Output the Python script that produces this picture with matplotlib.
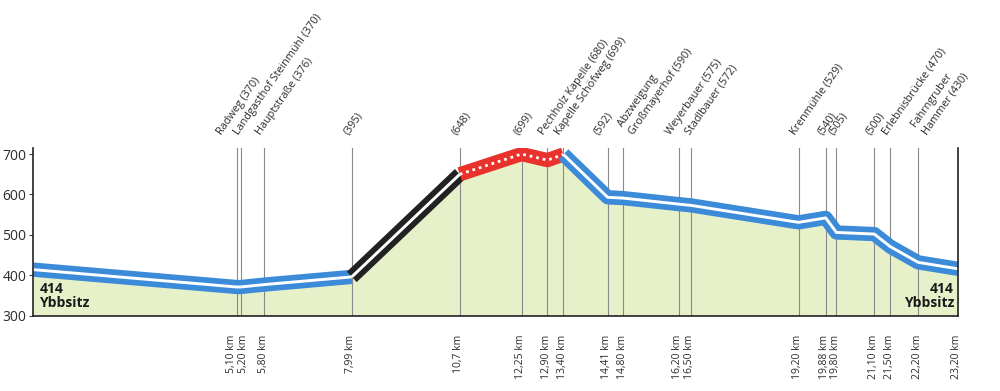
import matplotlib
matplotlib.use("Agg")
import matplotlib.pyplot as plt
import numpy as np

plt.rcParams['font.family'] = ['Open Sans', 'DejaVu Sans']

# ---- data ----
km = [0.0, 5.10, 5.20, 5.80, 7.99, 10.7, 12.25, 12.90, 13.30, 14.41, 14.80,
      16.20, 16.50, 19.20, 19.88, 20.15, 21.10, 21.50, 22.20, 23.20]
elev = [414, 371, 371, 377, 396, 650, 700, 685, 699, 593, 591,
        576, 573, 531, 542, 506, 502, 471, 432, 416]

# section boundaries (index ranges into km/elev) and their kind
sections = [(0, 4, 'blue'), (4, 5, 'black'), (5, 8, 'red'), (8, 19, 'blue')]

marker_km = [5.10, 5.20, 5.80, 7.99, 10.7, 12.25, 12.90, 13.30, 14.41, 14.80,
             16.20, 16.50, 19.20, 19.88, 20.15, 21.10, 21.50, 22.20, 23.20]
marker_dist_labels = ["5,10 km", "5,20 km", "5,80 km", "7,99 km", "10,7 km",
                      "12,25 km", "12,90 km", "13,40 km", "14,41 km", "14,80 km",
                      "16,20 km", "16,50 km", "19,20 km", "19,88 km", "19,80 km",
                      "21,10 km", "21,50 km", "22,20 km", "23,20 km"]
place_labels = ["Radweg (370)", "Landgasthof Steinmühl (370)", "Hauptstraße (376)",
                "(395)", "(648)", "(699)", "Pechholz Kapelle (680)",
                "Kapelle Schöfweg (699)", "(592)", "Abzweigung\nGroßmayerhof (590)",
                "Weyerbauer (575)", "Stadlbauer (572)", "Krenmühle (529)",
                "(540)", "(505)", "(500)", "Erlebnisbrücke (470)",
                "Fahrngruber\nHammer (430)", ""]
y_ticks = [300, 400, 500, 600, 700]
start_label = "414\nYbbsitz"
end_label = "414\nYbbsitz"

# ---- style ----
fill_col = '#e6f0c9'
band_cols = {'blue': '#3b8bd9', 'black': '#222222', 'red': '#e8322b'}
text_col = '#2b2b2b'
grid_col = '#8a8a8a'

fig = plt.figure(figsize=(10, 3.91), dpi=100)
ax = fig.add_axes([0.0333, 0.1926, 0.9247, 0.4289])
ax.set_xlim(0, 23.2)
ax.set_ylim(300, 715)

ax.fill_between(km, elev, 300, color=fill_col, zorder=1, lw=0)

for x in marker_km[:-1]:
    ax.axvline(x, color=grid_col, lw=0.8, zorder=2)

# route band
for i0, i1, kind in sections:
    xs = km[i0:i1 + 1]
    ys = elev[i0:i1 + 1]
    ax.plot(xs, ys, color=band_cols[kind], lw=10.3, solid_capstyle='butt',
            solid_joinstyle='round', zorder=3)
for i0, i1, kind in sections:
    xs = km[i0:i1 + 1]
    ys = elev[i0:i1 + 1]
    if kind == 'red':
        ax.plot(xs, ys, color='white', lw=2.0, linestyle=(0, (1.0, 1.4)),
                dash_capstyle='butt', zorder=4)
    else:
        ax.plot(xs, ys, color='white', lw=2.1, solid_capstyle='butt',
                solid_joinstyle='round', zorder=4)

# spines
ax.spines['top'].set_visible(False)
for s in ['left', 'bottom', 'right']:
    ax.spines[s].set_color('#222222')
    ax.spines[s].set_linewidth(1.2)
    ax.spines[s].set_zorder(5)

ax.set_xticks([])
ax.set_yticks(y_ticks)
ax.set_yticklabels([str(v) for v in y_ticks], fontsize=10, color=text_col)
ax.tick_params(axis='y', length=3, width=0.8, color='#444444', pad=2)

# distance labels at bottom
bottom_nudge = {"5,10 km": -5, "5,20 km": 3}
for x, lab in zip(marker_km, marker_dist_labels):
    ax.annotate(lab, xy=(x, 0), xycoords=('data', 'axes fraction'),
                xytext=(bottom_nudge.get(lab, -1), -19), textcoords='offset pixels',
                rotation=90, ha='center', va='top', fontsize=7.5, color=text_col,
                annotation_clip=False)

# place labels at top
top_nudge = {"Radweg (370)": -12, "Landgasthof Steinmühl (370)": 1,
             "(592)": -6, "Weyerbauer (575)": -5, "Stadlbauer (572)": 2,
             "Abzweigung\nGroßmayerhof (590)": 2}
for x, lab in zip(marker_km, place_labels):
    if not lab:
        continue
    n = lab.count('\n') + 1
    dx = -1 + 12 * (n - 1) + top_nudge.get(lab, 0)
    ax.annotate(lab, xy=(x, 1), xycoords=('data', 'axes fraction'),
                xytext=(dx, 11), textcoords='offset pixels',
                rotation=55, rotation_mode='anchor', ha='left', va='bottom',
                multialignment='left', fontsize=7.8, color=text_col,
                linespacing=1.3, annotation_clip=False)

ax.annotate(start_label, xy=(0, 0), xycoords='axes fraction', xytext=(6, 6),
            textcoords='offset pixels', ha='left', va='bottom', fontsize=10,
            fontweight='bold', color='#1a1a1a', linespacing=1.0, zorder=6)
ax.annotate(end_label, xy=(1, 0), xycoords='axes fraction', xytext=(-4, 6),
            textcoords='offset pixels', ha='right', va='bottom', fontsize=10,
            fontweight='bold', color='#1a1a1a', linespacing=1.0,
            multialignment='right', zorder=6)

fig.savefig('out.png', dpi=100, facecolor='white')
